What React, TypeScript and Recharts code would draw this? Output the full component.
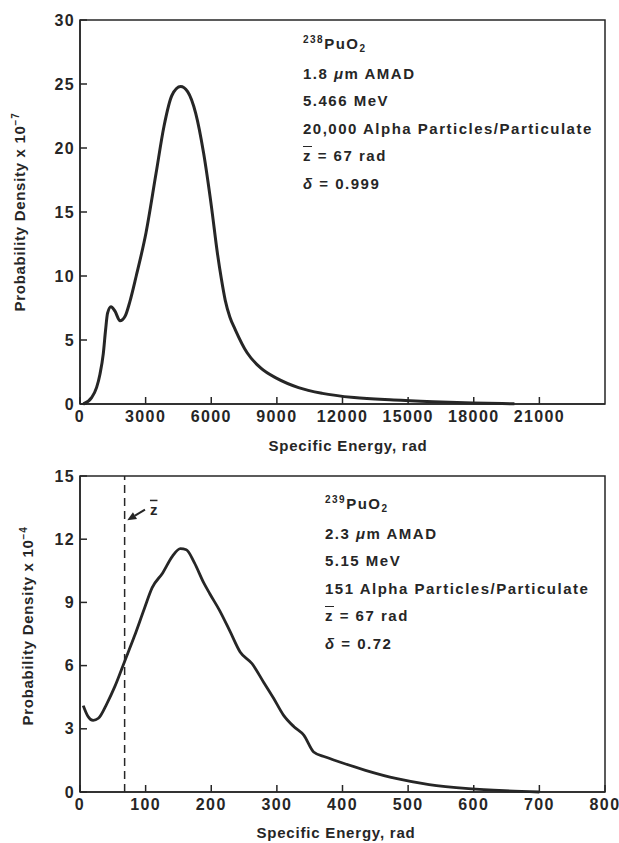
import React from 'react';
import { LineChart, Line, XAxis, YAxis, ReferenceArea, ReferenceLine } from 'recharts';

// 238PuO2 curve (x: rad, y: x 10^-7)
const PU238_ENERGY = [150, 530, 760, 915, 1065, 1170, 1260, 1415, 1600, 1830, 2060, 2280, 2570, 3020, 3475, 3840, 4200, 4600, 4920, 5290, 5650, 6010, 6280, 6460, 6640, 6850, 7100, 7640, 8270, 9000, 9990, 11080, 12530, 14340, 16150, 17960, 19860];
const PU238_DENSITY = [0, 0.5, 1.3, 2.35, 3.94, 5.8, 7.1, 7.6, 7.25, 6.5, 6.85, 8.0, 10.0, 13.4, 18.0, 21.7, 24.1, 24.8, 24.4, 22.7, 19.6, 15.4, 11.8, 9.8, 8.1, 6.8, 5.8, 4.0, 2.8, 2.0, 1.28, 0.83, 0.5, 0.31, 0.18, 0.08, 0.02];

// 239PuO2 curve (x: rad, y: x 10^-4)
const PU239_ENERGY = [5, 12, 20, 28, 41, 53, 68, 83, 98, 110, 126, 141, 153, 162, 174, 189, 198, 213, 229, 244, 262, 280, 295, 310, 326, 341, 356, 374, 398, 435, 483, 532, 592, 647, 700];
const PU239_DENSITY = [4.1, 3.6, 3.4, 3.5, 4.2, 5.0, 6.2, 7.4, 8.7, 9.7, 10.4, 11.2, 11.55, 11.5, 10.9, 9.9, 9.4, 8.6, 7.6, 6.65, 6.1, 5.2, 4.45, 3.65, 3.1, 2.7, 1.9, 1.66, 1.4, 1.03, 0.63, 0.35, 0.16, 0.06, 0];

const TOP_X_TICKS = [0, 3000, 6000, 9000, 12000, 15000, 18000, 21000];
const TOP_Y_TICKS = [0, 5, 10, 15, 20, 25, 30];
const BOT_X_TICKS = [0, 100, 200, 300, 400, 500, 600, 700, 800];
const BOT_Y_TICKS = [0, 3, 6, 9, 12, 15];

const Z_BAR = 68;
const ARROW_SEGMENT = [{ x: 99, y: 13.4 }, { x: 72, y: 12.9 }];

const FONT = '"Liberation Sans", Arial, sans-serif';
const INK = '#262626';

const topData = PU238_ENERGY.map((x, i) => ({ x, y: PU238_DENSITY[i] }));
const botData = PU239_ENERGY.map((x, i) => ({ x, y: PU239_DENSITY[i] }));

const tickStyle = { fill: INK, fontSize: 16, fontWeight: 'bold', fontFamily: FONT, letterSpacing: 1.4 };

const ArrowShape = (props: any) => {
  const { x1, y1, x2, y2 } = props;
  const ang = Math.atan2(y2 - y1, x2 - x1);
  const len = 9;
  const w = 4;
  const bx = x2 - len * Math.cos(ang);
  const by = y2 - len * Math.sin(ang);
  const px = -Math.sin(ang) * w;
  const py = Math.cos(ang) * w;
  return (
    <g>
      <line x1={x1} y1={y1} x2={bx} y2={by} stroke={INK} strokeWidth={2} />
      <polygon points={`${x2},${y2} ${bx + px},${by + py} ${bx - px},${by - py}`} fill={INK} />
      <text x={x1 + 5} y={y1 + 5} fontSize={15} fontWeight="bold" fontFamily={FONT} fill={INK}>
        <tspan textDecoration="overline">z</tspan>
      </text>
    </g>
  );
};

const box = (left: number, top: number, extra: React.CSSProperties = {}): React.CSSProperties => ({
  position: 'absolute', left, top, fontFamily: FONT, fontWeight: 'bold', color: INK, whiteSpace: 'nowrap', ...extra,
});

function Notes({ left, top, lines }: { left: number; top: number; lines: React.ReactNode[] }) {
  return (
    <div style={box(left, top, { fontSize: 15, letterSpacing: 1.5, lineHeight: '27.5px' })}>
      {lines.map((l, i) => <div key={i}>{l}</div>)}
    </div>
  );
}

const zbar = <span style={{ textDecoration: 'overline' }}>z</span>;
const sub = (t: string) => <sub style={{ fontSize: 10, verticalAlign: 'baseline', position: 'relative', top: 3 }}>{t}</sub>;
const sup = (t: string) => <sup style={{ fontSize: 10, verticalAlign: 'baseline', position: 'relative', top: -6 }}>{t}</sup>;

export default function App() {
  return (
    <div style={{ position: 'absolute', left: 0, top: 0, width: 619, height: 843, background: '#fff' }}>
      <div style={{ position: 'absolute', left: 0, top: 0 }}>
        <LineChart width={619} height={460} data={topData} margin={{ top: 20, right: 14, bottom: 0, left: 20 }}>
          <XAxis dataKey="x" type="number" domain={[0, 24000]} ticks={TOP_X_TICKS} height={56}
            tick={tickStyle} tickSize={-7} tickMargin={14} axisLine={{ stroke: INK, strokeWidth: 1.5 }}
            tickLine={{ stroke: INK, strokeWidth: 1.5 }} interval={0} />
          <YAxis type="number" domain={[0, 30]} ticks={TOP_Y_TICKS} width={60}
            tick={tickStyle} tickSize={-7} tickMargin={12} axisLine={{ stroke: INK, strokeWidth: 1.5 }}
            tickLine={{ stroke: INK, strokeWidth: 1.5 }} interval={0} />
          <ReferenceArea x1={0} x2={24000} y1={0} y2={30} fill="none" fillOpacity={0} stroke={INK} strokeWidth={1.5} />
          <Line dataKey="y" type="monotone" stroke={INK} strokeWidth={3} dot={false} isAnimationActive={false} />
        </LineChart>
      </div>
      <div style={{ position: 'absolute', left: 0, top: 455 }}>
        <LineChart width={619} height={388} data={botData} margin={{ top: 21, right: 14, bottom: 0, left: 20 }}>
          <XAxis dataKey="x" type="number" domain={[0, 800]} ticks={BOT_X_TICKS} height={51}
            tick={tickStyle} tickSize={-7} tickMargin={14} axisLine={{ stroke: INK, strokeWidth: 1.5 }}
            tickLine={{ stroke: INK, strokeWidth: 1.5 }} interval={0} />
          <YAxis type="number" domain={[0, 15]} ticks={BOT_Y_TICKS} width={60}
            tick={tickStyle} tickSize={-7} tickMargin={12} axisLine={{ stroke: INK, strokeWidth: 1.5 }}
            tickLine={{ stroke: INK, strokeWidth: 1.5 }} interval={0} />
          <ReferenceArea x1={0} x2={800} y1={0} y2={15} fill="none" fillOpacity={0} stroke={INK} strokeWidth={1.5} />
          <ReferenceLine x={Z_BAR} stroke={INK} strokeWidth={1.5} strokeDasharray="8 5" />
          <ReferenceLine segment={ARROW_SEGMENT} shape={ArrowShape} />
          <Line dataKey="y" type="monotone" stroke={INK} strokeWidth={2.8} dot={false} isAnimationActive={false} />
        </LineChart>
      </div>

      <Notes left={303} top={30} lines={[
        <>{sup('238')}PuO{sub('2')}</>,
        <>1.8 <i>μ</i>m AMAD</>,
        '5.466 MeV',
        '20,000 Alpha Particles/Particulate',
        <>{zbar} = 67 rad</>,
        <><i>δ</i> = 0.999</>,
      ]} />
      <Notes left={325} top={490} lines={[
        <>{sup('239')}PuO{sub('2')}</>,
        <>2.3 <i>μ</i>m AMAD</>,
        '5.15 MeV',
        '151 Alpha Particles/Particulate',
        <>{zbar} = 67 rad</>,
        <><i>δ</i> = 0.72</>,
      ]} />

      <div style={box(348, 445, { fontSize: 15, letterSpacing: 0.8, transform: 'translate(-50%, -50%)' })}>Specific Energy, rad</div>
      <div style={box(336, 832, { fontSize: 15, letterSpacing: 0.8, transform: 'translate(-50%, -50%)' })}>Specific Energy, rad</div>
      <div style={box(19, 212, { fontSize: 15, letterSpacing: 0.7, transform: 'translate(-50%, -50%) rotate(-90deg)' })}>
        Probability Density x 10{sup('−7')}
      </div>
      <div style={box(27, 626, { fontSize: 15, letterSpacing: 0.7, transform: 'translate(-50%, -50%) rotate(-90deg)' })}>
        Probability Density x 10{sup('−4')}
      </div>
    </div>
  );
}
